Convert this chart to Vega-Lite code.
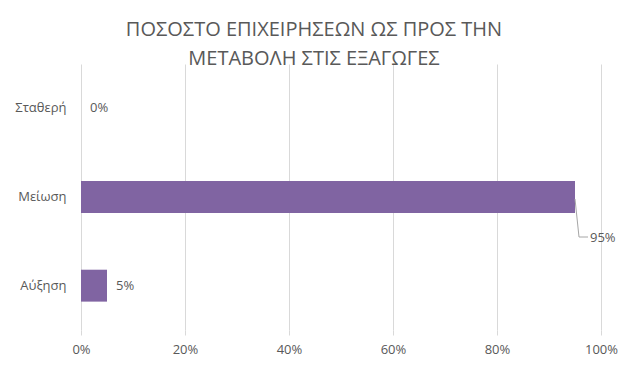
{
  "$schema": "https://vega.github.io/schema/vega-lite/v6.json",
  "autosize": "none",
  "width": 520,
  "height": 266,
  "padding": {"left": 81, "top": 64, "right": 30, "bottom": 40},
  "background": "white",
  "title": {
    "text": ["ΠΟΣΟΣΤΟ ΕΠΙΧΕΙΡΗΣΕΩΝ ΩΣ ΠΡΟΣ ΤΗΝ", "ΜΕΤΑΒΟΛΗ ΣΤΙΣ ΕΞΑΓΩΓΕΣ"],
    "anchor": "middle",
    "dx": -27,
    "font": "Open Sans",
    "fontSize": 20,
    "fontWeight": "normal",
    "color": "#595959",
    "lineHeight": 29,
    "offset": -5
  },
  "data": {
    "values": [
      {"cat": "Σταθερή", "value": 0},
      {"cat": "Μείωση", "value": 0.95},
      {"cat": "Αύξηση", "value": 0.05}
    ]
  },
  "encoding": {
    "y": {
      "field": "cat",
      "type": "nominal",
      "sort": null,
      "scale": {"paddingInner": 0.64, "paddingOuter": 0.32},
      "axis": {"title": null, "domain": false, "ticks": false, "labelPadding": 15, "labelFontSize": 13, "labelColor": "#595959", "labelFont": "Open Sans", "grid": false}
    },
    "x": {
      "field": "value",
      "type": "quantitative",
      "scale": {"domain": [0, 1], "nice": false},
      "axis": {"title": null, "values": [0, 0.2, 0.4, 0.6, 0.8, 1], "format": ".0%", "grid": true, "gridColor": "#d9d9d9", "domain": false, "ticks": true, "tickColor": "#d9d9d9", "tickSize": 5, "labelPadding": 8, "labelFlush": false, "labelFontSize": 13, "labelColor": "#595959", "labelFont": "Open Sans"}
    }
  },
  "layer": [
    {"mark": {"type": "bar", "color": "#8064A2"}},
    {
      "transform": [{"filter": "datum.value < 0.5"}],
      "mark": {"type": "text", "align": "left", "baseline": "middle", "dx": 9, "font": "Open Sans", "fontSize": 13, "color": "#595959"},
      "encoding": {"text": {"field": "value", "type": "quantitative", "format": ".0%"}}
    },
    {
      "transform": [{"filter": "datum.value > 0.5"}],
      "mark": {"type": "text", "align": "left", "baseline": "middle", "dx": 15, "dy": 41, "font": "Open Sans", "fontSize": 13, "color": "#595959"},
      "encoding": {"text": {"field": "value", "type": "quantitative", "format": ".0%"}}
    },
    {
      "transform": [{"filter": "datum.value > 0.5"}],
      "mark": {"type": "rule", "color": "#a6a6a6", "strokeWidth": 1, "yOffset": 2, "y2Offset": 40, "x2Offset": 4},
      "encoding": {"x2": {"field": "value"}, "y2": {"field": "cat"}}
    },
    {
      "transform": [{"filter": "datum.value > 0.5"}],
      "mark": {"type": "rule", "color": "#a6a6a6", "strokeWidth": 1, "yOffset": 40, "y2Offset": 40, "xOffset": 4, "x2Offset": 13},
      "encoding": {"x2": {"field": "value"}, "y2": {"field": "cat"}}
    }
  ],
  "config": {"view": {"stroke": null}}
}
